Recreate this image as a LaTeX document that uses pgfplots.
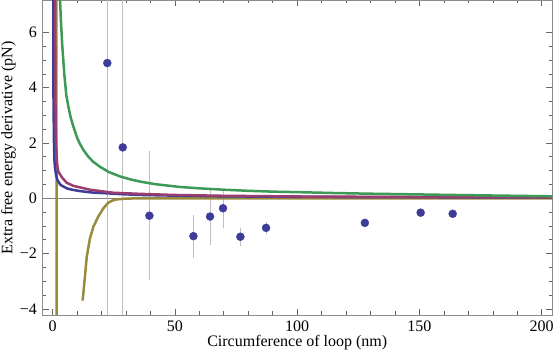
\documentclass[border=0pt]{standalone}
\usepackage{fontspec}
\setmainfont{Liberation Serif}
\usepackage{pgfplots}
\usepackage{pgfplotstable}
\pgfplotsset{compat=1.18}

\definecolor{mblue}{RGB}{61,61,153}
\definecolor{mmag}{RGB}{153,61,113}
\definecolor{molive}{RGB}{153,139,61}
\definecolor{mgreen}{RGB}{61,153,86}

% measured points: x, y, half error bar
\pgfplotstableread{
x      y      e
22.4   4.89   30
28.7   1.84   30
39.6  -0.63   2.33
57.6  -1.37   0.78
64.4  -0.66   1.03
69.7  -0.36   0.71
76.8  -1.39   0.33
87.3  -1.07   0.23
127.7 -0.89   0.13
150.5 -0.52   0.10
163.6 -0.56   0.10
}\pts

\begin{document}
\fontsize{16}{19}\selectfont
\begin{tikzpicture}
\begin{axis}[
  scale only axis, width=509.5pt, height=315pt,
  xmin=-4.1, xmax=204.2, ymin=-4.22, ymax=7.17,
  axis line style={black!45, line width=0.8pt},
  tick style={black!60, line width=0.6pt},
  tick align=inside,
  major tick length=6pt, minor tick length=3.5pt,
  xtick={0,50,100,150,200}, minor x tick num=4,
  ytick={-4,-2,0,2,4,6}, minor y tick num=3,
  yticklabels={−4,−2,0,2,4,6},
  xticklabels={0,50,100,150,200},
  xlabel={Circumference of loop (nm)},
  ylabel={Extra free energy derivative (pN)},
  every axis x label/.style={at={(axis description cs:0.5,-0.099)}, anchor=base},
  every axis y label/.style={at={(axis description cs:-0.059,0.53)}, rotate=90, anchor=base},
]
% zero axis
\addplot[black!50, line width=0.8pt, forget plot] coordinates {(-10,0) (210,0)};

% error bars
\addplot[only marks, mark=none, forget plot,
  error bars/.cd, y dir=both, y explicit, error mark=none,
  error bar style={black!25, line width=0.7pt}]
  table[x=x, y=y, y error=e] {\pts};

% olive curve, two branches
\addplot[molive, line width=2.5pt] coordinates {(1.6,8) (1.65,-5)};
\addplot[molive, line width=2.5pt] coordinates {
(12.3,-3.70) (13.0,-3.07) (14.0,-2.11) (15.3,-1.45) (16.7,-1.03) (18.7,-0.66)
(20.8,-0.36) (22.8,-0.16) (24.5,-0.08) (26.2,-0.04) (30.3,-0.01) (40,0) (100,0) (205,0)};

% blue curve
\addplot[mblue, line width=2.5pt] coordinates {
(0.30,8) (0.40,3.5) (0.60,2.0) (0.8,1.35) (1.0,1.1) (1.5,0.82) (2.0,0.66) (3.3,0.48)
(5.8,0.36) (8,0.31) (11.2,0.26) (16,0.21) (22,0.18) (29,0.145) (36,0.12)
(50,0.095) (70,0.07) (100,0.05) (140,0.04) (205,0.03)};

% magenta curve
\addplot[mmag, line width=2.5pt] coordinates {
(1.05,8) (1.15,4) (1.3,2.5) (1.6,1.6) (2.0,1.15) (2.4,0.96) (3.8,0.76) (5.8,0.56)
(8.5,0.45) (15.3,0.31) (24.8,0.20) (35.8,0.16) (50,0.12) (70,0.09) (100,0.065)
(150,0.045) (205,0.035)};

% green curve
\addplot[mgreen, line width=2.5pt] coordinates {
(2.9,7.6) (3.07,7.17) (3.5,6.3) (4,5.5) (4.8,4.5) (5.6,3.75) (6.5,3.3) (7.5,2.9)
(8.5,2.6) (10,2.2) (11,2.0) (12.6,1.75) (14.5,1.52) (16.5,1.33) (19.4,1.14)
(23,0.95) (27.6,0.79) (32,0.68) (36,0.6) (42,0.51) (52,0.41) (60,0.36) (70,0.31)
(80,0.27) (90,0.24) (101,0.22) (115,0.19) (130,0.165) (142,0.15) (160,0.125)
(180,0.1) (205,0.07)};

% data points
\addplot[only marks, mark=*, mark size=4pt, mblue, mark options={draw=mblue, fill=mblue}]
  table[x=x, y=y] {\pts};
\end{axis}
\pgfresetboundingbox
\path[use as bounding box] (-42.5pt,-40pt) rectangle (511.5pt,315pt);
\end{tikzpicture}
\end{document}
